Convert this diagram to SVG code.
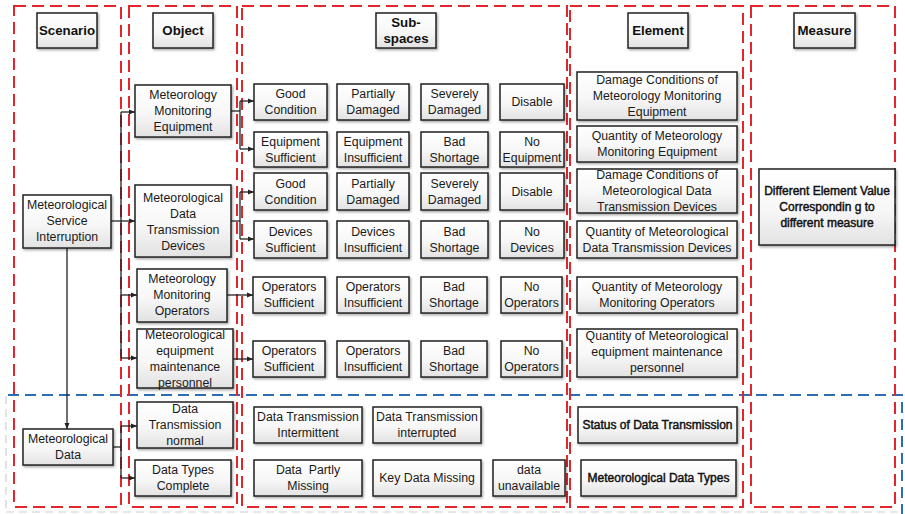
<svg xmlns="http://www.w3.org/2000/svg" width="905" height="514" viewBox="0 0 905 514">
  <defs>
    <linearGradient id="boxFill" x1="0" y1="0" x2="0" y2="1">
      <stop offset="0" stop-color="#ffffff"/>
      <stop offset="0.55" stop-color="#f7f7f7"/>
      <stop offset="1" stop-color="#e2e2e2"/>
    </linearGradient>
    <filter id="shadow" x="-10%" y="-10%" width="130%" height="140%">
      <feDropShadow dx="1.2" dy="1.5" stdDeviation="0.8" flood-color="#000" flood-opacity="0.35"/>
    </filter>
    <marker id="arrow" markerWidth="6" markerHeight="6" refX="6" refY="3" orient="auto" markerUnits="userSpaceOnUse">
      <path d="M0,0.5 L6,3 L0,5.5 z" fill="#222"/>
    </marker>
    <style>
      .col { fill: none; stroke: #e3262b; stroke-width: 2; stroke-dasharray: 12 6; }
      .blue { fill: none; stroke: #2e6db4; stroke-width: 2; stroke-dasharray: 11 6; }
      .faint { fill: none; stroke: #cfcfcf; stroke-width: 1.2; stroke-dasharray: 8 5; }
      .box { fill: url(#boxFill); stroke: #222; stroke-width: 1.5; filter: url(#shadow); }
      .t { font-family: "Liberation Sans", Arial, sans-serif; font-size: 12.3px; fill: #1a1a1a; text-anchor: middle; }
      .h { font-family: "Liberation Sans", Arial, sans-serif; font-size: 13.3px; font-weight: bold; fill: #111; text-anchor: middle; }
      .b { font-family: "Liberation Sans", Arial, sans-serif; font-size: 12px; fill: #111; stroke: #111; stroke-width: 0.45; text-anchor: middle; }
      .conn line, .conn path { fill: none; stroke: #222; stroke-width: 1.3; }
    </style>
  </defs>

  <rect width="905" height="514" fill="#ffffff"/>

  <!-- lower band (data scenario) -->
  <g id="band-data">
    <line class="faint" x1="6" y1="396" x2="6" y2="512"/>
    <line class="faint" x1="6" y1="512" x2="902" y2="512"/>
    <path class="blue" d="M8,395 H902 V514"/>
  </g>

  <!-- column frames -->
  <g id="columns">
    <rect class="col" x="14" y="6" width="107" height="501"/>
    <rect class="col" x="129" y="6" width="108" height="501"/>
    <rect class="col" x="242" y="6" width="325" height="501"/>
    <rect class="col" x="570" y="6" width="173" height="501"/>
    <rect class="col" x="751" y="6" width="144" height="501"/>
  </g>

  <!-- connectors -->
  <g id="connectors" class="conn">
    <!-- scenario to objects -->
    <line x1="111" y1="221" x2="135" y2="221" marker-end="url(#arrow)"/>
    <line x1="121" y1="112" x2="121" y2="358"/>
    <line x1="121" y1="112" x2="135" y2="112" marker-end="url(#arrow)"/>
    <line x1="121" y1="295" x2="137" y2="295" marker-end="url(#arrow)"/>
    <line x1="121" y1="358" x2="137" y2="358" marker-end="url(#arrow)"/>
    <line x1="67" y1="248" x2="67" y2="429" marker-end="url(#arrow)"/>
    <path d="M113,447 H121"/>
    <line x1="121" y1="426" x2="121" y2="478"/>
    <line x1="121" y1="426" x2="137" y2="426" marker-end="url(#arrow)"/>
    <line x1="121" y1="478" x2="135" y2="478" marker-end="url(#arrow)"/>
    <!-- objects to sub-spaces -->
    <path d="M231,111 H240"/>
    <line x1="240" y1="101" x2="240" y2="149"/>
    <line x1="240" y1="101" x2="254" y2="101" marker-end="url(#arrow)"/>
    <line x1="240" y1="149" x2="254" y2="149" marker-end="url(#arrow)"/>
    <path d="M231,221 H240"/>
    <line x1="240" y1="192" x2="240" y2="239"/>
    <line x1="240" y1="192" x2="254" y2="192" marker-end="url(#arrow)"/>
    <line x1="240" y1="239" x2="254" y2="239" marker-end="url(#arrow)"/>
    <line x1="227" y1="295" x2="253" y2="295" marker-end="url(#arrow)"/>
    <line x1="233" y1="359" x2="253" y2="359" marker-end="url(#arrow)"/>
  </g>

  <!-- headers -->
  <g id="hdr-scenario"><rect class="box" x="37" y="13" width="60" height="35"/><text class="h" x="67" y="35">Scenario</text></g>
  <g id="hdr-object"><rect class="box" x="153" y="13" width="60" height="35"/><text class="h" x="183" y="35">Object</text></g>
  <g id="hdr-subspaces"><rect class="box" x="376" y="13" width="60" height="35"/><text class="h"><tspan x="406" y="27">Sub-</tspan><tspan x="406" y="43">spaces</tspan></text></g>
  <g id="hdr-element"><rect class="box" x="628" y="13" width="60" height="35"/><text class="h" x="658" y="35">Element</text></g>
  <g id="hdr-measure"><rect class="box" x="794" y="13" width="61" height="35"/><text class="h" x="824.5" y="35">Measure</text></g>

  <!-- scenarios -->
  <g id="scn-service"><rect class="box" x="23" y="195" width="88" height="53"/><text class="t"><tspan x="67" y="209.3">Meteorological</tspan><tspan x="67" y="225.3">Service</tspan><tspan x="67" y="241.3">Interruption</tspan></text></g>
  <g id="scn-data"><rect class="box" x="23" y="429" width="90" height="36"/><text class="t"><tspan x="68" y="443.3">Meteorological</tspan><tspan x="68" y="459.3">Data</tspan></text></g>

  <!-- objects -->
  <g id="obj-equipment"><rect class="box" x="135" y="85" width="96" height="52"/><text class="t"><tspan x="183" y="99.3">Meteorology</tspan><tspan x="183" y="115.3">Monitoring</tspan><tspan x="183" y="131.3">Equipment</tspan></text></g>
  <g id="obj-devices"><rect class="box" x="135" y="185" width="96" height="72"/><text class="t"><tspan x="183" y="201.8">Meteorological</tspan><tspan x="183" y="217.8">Data</tspan><tspan x="183" y="233.8">Transmission</tspan><tspan x="183" y="249.8">Devices</tspan></text></g>
  <g id="obj-operators"><rect class="box" x="137" y="269" width="90" height="53"/><text class="t"><tspan x="182" y="283.3">Meteorology</tspan><tspan x="182" y="299.3">Monitoring</tspan><tspan x="182" y="315.3">Operators</tspan></text></g>
  <g id="obj-maintenance"><rect class="box" x="137" y="329" width="96" height="59"/><text class="t"><tspan x="185" y="338.8">Meteorological</tspan><tspan x="185" y="354.8">equipment</tspan><tspan x="185" y="370.8">maintenance</tspan><tspan x="185" y="386.8">personnel</tspan></text></g>
  <g id="obj-transmission"><rect class="box" x="137" y="402" width="96" height="46"/><text class="t"><tspan x="185" y="412.8">Data</tspan><tspan x="185" y="428.8">Transmission</tspan><tspan x="185" y="444.8">normal</tspan></text></g>
  <g id="obj-datatypes"><rect class="box" x="135" y="460" width="96" height="36"/><text class="t"><tspan x="183" y="474.3">Data Types</tspan><tspan x="183" y="490.3">Complete</tspan></text></g>

  <!-- sub-spaces: equipment damage -->
  <g id="ss-1-1"><rect class="box" x="254" y="84" width="73" height="36"/><text class="t"><tspan x="290.5" y="98.3">Good</tspan><tspan x="290.5" y="114.3">Condition</tspan></text></g>
  <g id="ss-1-2"><rect class="box" x="337" y="84" width="72" height="36"/><text class="t"><tspan x="373" y="98.3">Partially</tspan><tspan x="373" y="114.3">Damaged</tspan></text></g>
  <g id="ss-1-3"><rect class="box" x="421" y="84" width="67" height="36"/><text class="t"><tspan x="454.5" y="98.3">Severely</tspan><tspan x="454.5" y="114.3">Damaged</tspan></text></g>
  <g id="ss-1-4"><rect class="box" x="500" y="84" width="64" height="36"/><text class="t" x="532" y="106.3">Disable</text></g>
  <!-- sub-spaces: equipment quantity -->
  <g id="ss-2-1"><rect class="box" x="254" y="132" width="73" height="35"/><text class="t"><tspan x="290.5" y="145.8">Equipment</tspan><tspan x="290.5" y="161.8">Sufficient</tspan></text></g>
  <g id="ss-2-2"><rect class="box" x="337" y="132" width="72" height="35"/><text class="t"><tspan x="373" y="145.8">Equipment</tspan><tspan x="373" y="161.8">Insufficient</tspan></text></g>
  <g id="ss-2-3"><rect class="box" x="421" y="132" width="67" height="35"/><text class="t"><tspan x="454.5" y="145.8">Bad</tspan><tspan x="454.5" y="161.8">Shortage</tspan></text></g>
  <g id="ss-2-4"><rect class="box" x="500" y="132" width="64" height="35"/><text class="t"><tspan x="532" y="145.8">No</tspan><tspan x="532" y="161.8">Equipment</tspan></text></g>
  <!-- sub-spaces: device damage -->
  <g id="ss-3-1"><rect class="box" x="254" y="173" width="73" height="37"/><text class="t"><tspan x="290.5" y="187.8">Good</tspan><tspan x="290.5" y="203.8">Condition</tspan></text></g>
  <g id="ss-3-2"><rect class="box" x="337" y="173" width="72" height="37"/><text class="t"><tspan x="373" y="187.8">Partially</tspan><tspan x="373" y="203.8">Damaged</tspan></text></g>
  <g id="ss-3-3"><rect class="box" x="421" y="173" width="67" height="37"/><text class="t"><tspan x="454.5" y="187.8">Severely</tspan><tspan x="454.5" y="203.8">Damaged</tspan></text></g>
  <g id="ss-3-4"><rect class="box" x="500" y="173" width="64" height="37"/><text class="t" x="532" y="195.8">Disable</text></g>
  <!-- sub-spaces: device quantity -->
  <g id="ss-4-1"><rect class="box" x="254" y="221" width="73" height="37"/><text class="t"><tspan x="290.5" y="235.8">Devices</tspan><tspan x="290.5" y="251.8">Sufficient</tspan></text></g>
  <g id="ss-4-2"><rect class="box" x="337" y="221" width="72" height="37"/><text class="t"><tspan x="373" y="235.8">Devices</tspan><tspan x="373" y="251.8">Insufficient</tspan></text></g>
  <g id="ss-4-3"><rect class="box" x="421" y="221" width="67" height="37"/><text class="t"><tspan x="454.5" y="235.8">Bad</tspan><tspan x="454.5" y="251.8">Shortage</tspan></text></g>
  <g id="ss-4-4"><rect class="box" x="500" y="221" width="64" height="37"/><text class="t"><tspan x="532" y="235.8">No</tspan><tspan x="532" y="251.8">Devices</tspan></text></g>
  <!-- sub-spaces: operators -->
  <g id="ss-5-1"><rect class="box" x="253" y="277" width="72" height="36"/><text class="t"><tspan x="289" y="291.3">Operators</tspan><tspan x="289" y="307.3">Sufficient</tspan></text></g>
  <g id="ss-5-2"><rect class="box" x="337" y="277" width="72" height="36"/><text class="t"><tspan x="373" y="291.3">Operators</tspan><tspan x="373" y="307.3">Insufficient</tspan></text></g>
  <g id="ss-5-3"><rect class="box" x="421" y="277" width="66" height="36"/><text class="t"><tspan x="454" y="291.3">Bad</tspan><tspan x="454" y="307.3">Shortage</tspan></text></g>
  <g id="ss-5-4"><rect class="box" x="501" y="277" width="61" height="36"/><text class="t"><tspan x="531.5" y="291.3">No</tspan><tspan x="531.5" y="307.3">Operators</tspan></text></g>
  <!-- sub-spaces: maintenance personnel -->
  <g id="ss-6-1"><rect class="box" x="253" y="341" width="72" height="36"/><text class="t"><tspan x="289" y="355.3">Operators</tspan><tspan x="289" y="371.3">Sufficient</tspan></text></g>
  <g id="ss-6-2"><rect class="box" x="337" y="341" width="72" height="36"/><text class="t"><tspan x="373" y="355.3">Operators</tspan><tspan x="373" y="371.3">Insufficient</tspan></text></g>
  <g id="ss-6-3"><rect class="box" x="421" y="341" width="66" height="36"/><text class="t"><tspan x="454" y="355.3">Bad</tspan><tspan x="454" y="371.3">Shortage</tspan></text></g>
  <g id="ss-6-4"><rect class="box" x="501" y="341" width="61" height="36"/><text class="t"><tspan x="531.5" y="355.3">No</tspan><tspan x="531.5" y="371.3">Operators</tspan></text></g>
  <!-- sub-spaces: data transmission -->
  <g id="ss-7-1"><rect class="box" x="254" y="407" width="108" height="36"/><text class="t"><tspan x="308" y="421.3">Data Transmission</tspan><tspan x="308" y="437.3">Intermittent</tspan></text></g>
  <g id="ss-7-2"><rect class="box" x="373" y="407" width="108" height="36"/><text class="t"><tspan x="427" y="421.3">Data Transmission</tspan><tspan x="427" y="437.3">interrupted</tspan></text></g>
  <!-- sub-spaces: data types -->
  <g id="ss-8-1"><rect class="box" x="254" y="460" width="108" height="36"/><text class="t" xml:space="preserve"><tspan x="308" y="474.3">Data  Partly</tspan><tspan x="308" y="490.3">Missing</tspan></text></g>
  <g id="ss-8-2"><rect class="box" x="373" y="460" width="108" height="36"/><text class="t" x="427" y="482.3">Key Data Missing</text></g>
  <g id="ss-8-3"><rect class="box" x="493" y="460" width="72" height="36"/><text class="t"><tspan x="529" y="474.3">data</tspan><tspan x="529" y="490.3">unavailable</tspan></text></g>

  <!-- elements -->
  <g id="el-1"><rect class="box" x="577" y="72" width="160" height="48"/><text class="t"><tspan x="657" y="84.3">Damage Conditions of</tspan><tspan x="657" y="100.3">Meteorology Monitoring</tspan><tspan x="657" y="116.3">Equipment</tspan></text></g>
  <g id="el-2"><rect class="box" x="577" y="126" width="160" height="36"/><text class="t"><tspan x="657" y="140.3">Quantity of Meteorology</tspan><tspan x="657" y="156.3">Monitoring Equipment</tspan></text></g>
  <g id="el-3"><rect class="box" x="577" y="169" width="160" height="44"/><text class="t"><tspan x="657" y="179.3">Damage Conditions of</tspan><tspan x="657" y="195.3">Meteorological Data</tspan><tspan x="657" y="211.3">Transmission Devices</tspan></text></g>
  <g id="el-4"><rect class="box" x="577" y="221" width="160" height="37"/><text class="t"><tspan x="657" y="235.8">Quantity of Meteorological</tspan><tspan x="657" y="251.8">Data Transmission Devices</tspan></text></g>
  <g id="el-5"><rect class="box" x="577" y="277" width="160" height="36"/><text class="t"><tspan x="657" y="291.3">Quantity of Meteorology</tspan><tspan x="657" y="307.3">Monitoring Operators</tspan></text></g>
  <g id="el-6"><rect class="box" x="577" y="329" width="160" height="48"/><text class="t"><tspan x="657" y="340.3">Quantity of Meteorological</tspan><tspan x="657" y="356.3">equipment maintenance</tspan><tspan x="657" y="372.3">personnel</tspan></text></g>
  <g id="el-7"><rect class="box" x="578" y="407" width="159" height="36"/><text class="b" x="657.5" y="429.3">Status of Data Transmission</text></g>
  <g id="el-8"><rect class="box" x="581" y="460" width="155" height="36"/><text class="b" x="658.5" y="482.3">Meteorological Data Types</text></g>

  <!-- measure -->
  <g id="measure"><rect class="box" x="759" y="169" width="136" height="76"/><text class="b" font-size="12.3" stroke-width="0.3"><tspan x="827" y="195">Different Element Value</tspan><tspan x="827" y="211">Correspondin g to</tspan><tspan x="827" y="227">different measure</tspan></text></g>
</svg>
